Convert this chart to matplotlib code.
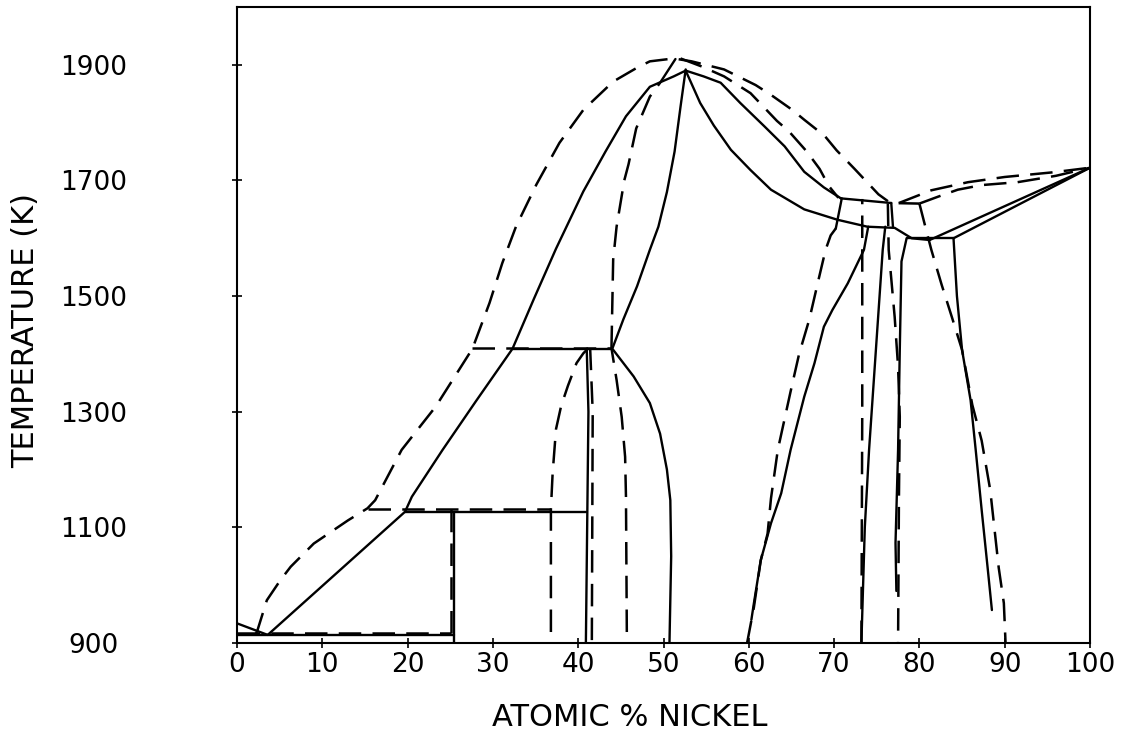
import matplotlib
matplotlib.use("Agg")
import matplotlib.pyplot as plt

# ---- data: (atomic % Ni, temperature K) ----
# solid lines
calc_al_liq = [(0, 934), (3.6, 914)]
calc_al_eut = [(0, 914), (25.4, 914)]
calc_al3ni = [(25.4, 900), (25.4, 1127)]
calc_al3ni_peri = [(19.7, 1127), (40.9, 1127)]
calc_liq_left = [(3.6, 914), (19.7, 1127), (20.5, 1153), (24.1, 1234), (28.0, 1318),
                 (32.3, 1409), (34.8, 1495), (37.4, 1582), (40.6, 1681), (43.2, 1750),
                 (45.6, 1811), (48.4, 1862), (51.2, 1880), (52.6, 1890)]
calc_al3ni2_peri = [(32.3, 1409), (44.0, 1409)]
calc_al3ni2 = [(40.9, 900), (41.2, 1300), (41.0, 1409)]
calc_alni_left = [(52.6, 1892), (52.0, 1828), (51.3, 1750), (50.4, 1680), (49.4, 1620),
                  (48.4, 1580), (46.9, 1517), (45.3, 1460), (44.0, 1409), (46.5, 1361),
                  (48.4, 1315), (49.6, 1262), (50.4, 1200), (50.8, 1147), (50.9, 1050),
                  (50.7, 900)]
calc_peak_branch = [(49.6, 1869), (51.4, 1910)]
calc_liq_right_up = [(52.6, 1890), (54.7, 1880), (56.7, 1869), (59.0, 1834), (61.8, 1794),
                     (64.2, 1759), (66.5, 1715), (68.8, 1688), (70.8, 1669)]
calc_liq_right_low = [(52.6, 1890), (54.3, 1834), (55.9, 1795), (57.9, 1753), (60.2, 1718),
                      (62.6, 1684), (66.5, 1650), (70.4, 1632), (73.9, 1620), (77.1, 1618),
                      (79.1, 1600), (81.2, 1597)]
calc_peri_hi = [(70.8, 1669), (76.7, 1661)]
calc_stub_left = [(70.2, 1617), (70.9, 1669)]
calc_stub_right = [(76.7, 1661), (76.9, 1620)]
calc_alni_right = [(60.3, 940), (60.6, 969), (61.4, 1043), (62.6, 1107), (63.8, 1159),
                   (64.9, 1234), (66.5, 1326), (67.7, 1384), (68.8, 1447), (69.8, 1476),
                   (71.6, 1522), (73.5, 1580), (74.0, 1620)]
calc_alni3_left = [(73.2, 900), (73.6, 1100), (74.1, 1234), (74.9, 1407), (75.7, 1580),
                   (76.0, 1620)]
calc_alni3_right = [(78.5, 1600), (77.9, 1560), (77.7, 1407), (77.5, 1234), (77.2, 1073),
                    (77.3, 990)]
calc_eut_ni = [(78.5, 1600), (84.0, 1600)]
calc_ni_liq = [(81.2, 1597), (100, 1722)]
calc_ni_sol = [(84.0, 1600), (100, 1722)]
calc_ni_solvus = [(84.0, 1600), (84.4, 1500), (85.0, 1407), (86.0, 1320), (86.6, 1234),
                  (87.3, 1130), (88.0, 1030), (88.5, 957)]

# dashed lines
exp_al_eut = [(0, 917), (25.1, 917)]
exp_al3ni = [(25.1, 917), (25.1, 1131)]
exp_al3ni_peri = [(15.3, 1131), (36.8, 1131)]
exp_liq_left = [(2.2, 915), (2.4, 922), (3.5, 974), (5.1, 1009), (6.3, 1032), (9.0, 1072),
                (13.0, 1112), (15.3, 1133), (16.2, 1147), (19.3, 1234), (23.3, 1309),
                (27.6, 1409), (29.6, 1488), (31.1, 1557), (32.7, 1620), (35.1, 1693),
                (37.8, 1765), (40.6, 1822), (44.1, 1871), (46.9, 1895), (48.4, 1906),
                (51.2, 1911), (53.3, 1906), (57.1, 1892), (60.8, 1865), (62.6, 1848),
                (65.1, 1822), (66.5, 1805), (68.9, 1777), (70.3, 1752), (72.4, 1720),
                (73.8, 1698), (75.2, 1676), (76.6, 1661), (80.0, 1660)]
exp_al3ni2_peri = [(27.6, 1410), (43.9, 1410)]
exp_al3ni2_left = [(36.8, 919), (36.8, 1131), (37.0, 1193), (37.4, 1270), (38.0, 1310),
                   (38.8, 1345), (39.8, 1384), (40.6, 1401), (41.2, 1410)]
exp_al3ni2_mid = [(41.6, 905), (41.7, 1300), (41.4, 1410)]
exp_alni_left_low = [(45.7, 919), (45.6, 1153), (45.5, 1222), (45.1, 1291), (44.5, 1355),
                     (43.9, 1410)]
exp_alni_left_up = [(43.9, 1410), (44.1, 1563), (44.5, 1620), (45.4, 1700), (45.9, 1728),
                    (46.8, 1790), (48.4, 1845), (49.6, 1869)]
exp_liq_right_in = [(52.0, 1911), (54.5, 1897), (57.1, 1880), (60.2, 1851), (63.3, 1803),
                    (64.7, 1785), (66.8, 1750), (68.3, 1720), (69.4, 1690), (70.5, 1670)]
exp_alni_right = [(59.8, 900), (60.6, 962), (61.4, 1043), (62.2, 1089), (62.6, 1150),
                  (63.4, 1234), (64.9, 1335), (65.9, 1400), (67.1, 1460), (68.2, 1530),
                  (69.0, 1580), (69.6, 1605), (70.2, 1617)]
exp_alni3_left = [(73.2, 900), (73.3, 1300), (73.3, 1668)]
exp_alni3_right = [(76.3, 1660), (76.4, 1580), (77.1, 1464), (77.5, 1378), (77.7, 1291),
                   (77.6, 1150), (77.5, 900)]
exp_ni_solvus = [(80.0, 1660), (80.8, 1614), (81.4, 1580), (82.6, 1520), (83.8, 1464),
                 (85.0, 1407), (86.2, 1312), (87.3, 1250), (88.3, 1165), (89.3, 1030),
                 (89.9, 969), (90.1, 900)]
exp_ni_liq = [(77.6, 1661), (81.4, 1683), (85.7, 1697), (90.0, 1706), (95.6, 1714),
              (100, 1722)]
exp_ni_sol = [(80.0, 1660), (82.2, 1672), (84.5, 1684), (87.3, 1692), (91.5, 1697),
              (96.0, 1708), (100, 1722)]

solid_curves = [calc_al_liq, calc_al_eut, calc_al3ni, calc_al3ni_peri, calc_liq_left,
                calc_al3ni2_peri, calc_al3ni2, calc_alni_left, calc_peak_branch,
                calc_liq_right_up, calc_liq_right_low, calc_peri_hi, calc_stub_left,
                calc_stub_right, calc_alni_right, calc_alni3_left, calc_alni3_right,
                calc_eut_ni, calc_ni_liq, calc_ni_sol, calc_ni_solvus]
dashed_curves = [exp_al_eut, exp_al3ni, exp_al3ni_peri, exp_liq_left, exp_al3ni2_peri,
                 exp_al3ni2_left, exp_al3ni2_mid, exp_alni_left_low, exp_alni_left_up,
                 exp_liq_right_in, exp_alni_right, exp_alni3_left, exp_alni3_right,
                 exp_ni_solvus, exp_ni_liq, exp_ni_sol]

x_ticks = list(range(0, 101, 10))
y_ticks = list(range(900, 2000, 200))


def main() -> None:
    plt.rcParams["font.family"] = ["DejaVu Sans"]
    fig = plt.figure(figsize=(11.38, 7.38), dpi=100)
    ax = fig.add_axes([237 / 1138, 1 - 643 / 738, 853 / 1138, 636 / 738])

    for c in solid_curves:
        xs, ts = zip(*c)
        ax.plot(xs, ts, color="black", lw=1.7, solid_capstyle="round")
    for c in dashed_curves:
        xs, ts = zip(*c)
        ax.plot(xs, ts, color="black", lw=1.8, dashes=(9, 4.5))

    ax.set_xlim(0, 100)
    ax.set_ylim(900, 2000)
    ax.set_xticks(x_ticks)
    ax.set_yticks(y_ticks)
    ax.tick_params(direction="inout", length=7, width=1.2, labelsize=19)
    ax.tick_params(axis="x", pad=3)
    ax.tick_params(axis="y", pad=100)
    for lab in ax.get_yticklabels():
        lab.set_horizontalalignment("center")
    for sp in ax.spines.values():
        sp.set_linewidth(1.5)

    fig.text(26 / 1138, 1 - 330 / 738, "TEMPERATURE (K)", rotation=90,
             ha="center", va="center", fontsize=22)
    fig.text(630 / 1138, 1 - 718 / 738, "ATOMIC % NICKEL",
             ha="center", va="center", fontsize=22)

    fig.savefig("out.png", dpi=100)
    plt.close(fig)


if __name__ == "__main__":
    main()
